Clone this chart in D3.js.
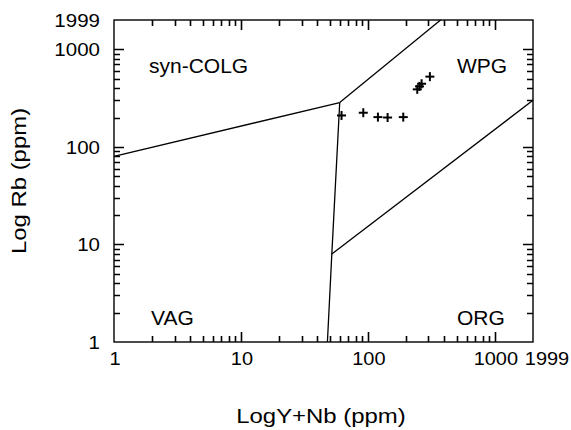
<!DOCTYPE html>
<html>
<head>
<meta charset="utf-8">
<script src="https://cdn.jsdelivr.net/npm/d3@7"></script>
<style>
  body { margin: 0; background: #fff; }
  svg text { font-family: "Liberation Sans", Arial, sans-serif; fill: #000; }
</style>
</head>
<body>
<svg id="chart" width="571" height="430"></svg>
<script>
// ── data ──────────────────────────────────────────────
// sample points: Y+Nb (ppm) vs Rb (ppm)
const sampleYNb = [62, 92, 120, 143, 190, 245, 255, 265, 308];
const sampleRb  = [210, 224, 202, 200, 202, 389, 417, 444, 525];

// field boundaries (Y+Nb, Rb)
const lineVagSyn = [[1, 80], [60, 285]];
const lineSynWpg = [[60, 285], [374, 1999]];
const lineVagOrg = [[60, 285], [52, 8], [48, 1]];
const lineWpgOrg = [[52, 8], [1999, 300]];

const fieldNames = ['syn-COLG', 'WPG', 'VAG', 'ORG'];

const majorTicks = [10, 100, 1000];
const tickLabels = [1, 10, 100, 1000, 1999];
const minorTicks = [2, 3, 4, 5, 6, 7, 8, 9, 20, 30, 40, 50, 60, 70, 80, 90,
                    200, 300, 400, 500, 600, 700, 800, 900];

// ── layout ────────────────────────────────────────────
const svg = d3.select('#chart');
const pLeft = 114, pRight = 533, pTop = 20, pBottom = 342;

const x = d3.scaleLog().domain([1, 1999]).range([pLeft, pRight]);
const y = d3.scaleLog().domain([1, 1999]).range([pBottom, pTop]);

const g = svg.append('g');

// inward ticks on all four sides, one path per tick set
function tickPath(vals, len) {
  const path = d3.path();
  vals.forEach(v => {
    const px = Math.round(x(v)) + 0.5, py = Math.round(y(v)) + 0.5;
    path.moveTo(px, pBottom); path.lineTo(px, pBottom - len);
    path.moveTo(px, pTop);    path.lineTo(px, pTop + len);
    path.moveTo(pLeft, py);   path.lineTo(pLeft + len, py);
    path.moveTo(pRight, py);  path.lineTo(pRight - len, py);
  });
  g.append('path')
    .attr('d', path.toString())
    .attr('fill', 'none')
    .attr('stroke', '#000')
    .attr('stroke-width', 1.6);
}
tickPath(majorTicks, 10);
tickPath(minorTicks, 6);

// frame
g.append('rect')
  .attr('x', pLeft).attr('y', pTop)
  .attr('width', pRight - pLeft).attr('height', pBottom - pTop)
  .attr('fill', 'none').attr('stroke', '#000').attr('stroke-width', 1.4);

// text helper: slightly wide lettering as in the original
function label(txt, px, py, anchor, size, sx, rot) {
  return g.append('text')
    .attr('transform', `translate(${px},${py})${rot ? ' rotate(' + rot + ')' : ''} scale(${sx},1)`)
    .attr('text-anchor', anchor)
    .style('font-size', size + 'px')
    .text(txt);
}

// tick labels
tickLabels.forEach(v => {
  label(v, v === 1999 ? x(v) + 14 : x(v) + 1, pBottom + 23, 'middle', 19, 1.05);
  label(v, pLeft - 14, y(v) + 7, 'end', 19, 1.08);
});

// boundaries
const line = d3.line().x(d => x(d[0])).y(d => y(d[1]));
[lineVagSyn, lineSynWpg, lineVagOrg, lineWpgOrg].forEach(pts => {
  g.append('path').attr('d', line(pts))
    .attr('fill', 'none').attr('stroke', '#000').attr('stroke-width', 1.3);
});

// field names
const labelPos = [[149, 73], [457, 73], [151, 325], [457, 325]];
fieldNames.forEach((name, i) => {
  label(name, labelPos[i][0], labelPos[i][1], 'start', 21, 1);
});

// samples as plus markers
const pts = sampleYNb.map((v, i) => [v, sampleRb[i]]);
const cross = g.selectAll('.pt').data(pts).enter().append('g')
  .attr('class', 'pt')
  .attr('transform', d => `translate(${x(d[0])},${y(d[1])})`);
cross.append('line').attr('x1', -4.5).attr('x2', 4.5).attr('y1', 0).attr('y2', 0);
cross.append('line').attr('x1', 0).attr('x2', 0).attr('y1', -4.5).attr('y2', 4.5);
cross.selectAll('line').attr('stroke', '#000').attr('stroke-width', 2);

// axis titles
label('LogY+Nb (ppm)', 321, 423, 'middle', 21, 1.14);
label('Log Rb (ppm)', 26, 181, 'middle', 21, 1.14, -90);
</script>
</body>
</html>
